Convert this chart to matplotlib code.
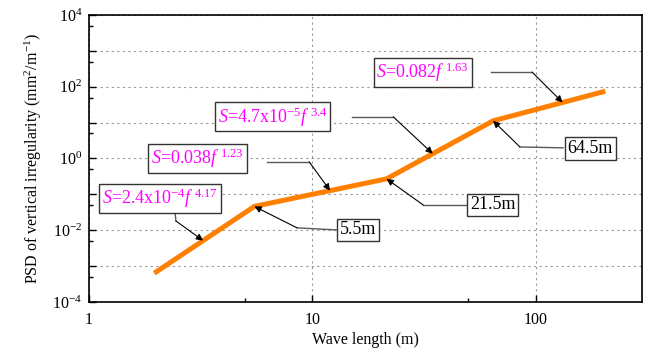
import numpy as np
import matplotlib
matplotlib.use("Agg")
import matplotlib.pyplot as plt
from matplotlib.ticker import NullFormatter, FixedLocator

plt.rcParams["font.family"] = "Liberation Serif"
plt.rcParams["mathtext.fontset"] = "custom"
plt.rcParams["mathtext.rm"] = "Liberation Serif"
plt.rcParams["mathtext.it"] = "Liberation Serif:italic"

# piecewise power-law PSD, vertices at the break wavelengths
wavelength = [2.0, 5.5, 21.5, 64.5, 200.0]
psd = [6.9e-4, 0.046, 0.27, 11.2, 72.0]

# fitted expressions: (text, wavelength the arrow points at, box centre, leader start, elbow)
fits = [
    (r"$S$=2.4x10$^{\mathrm{-4}}$$f^{\ \mathrm{4.17}}$", 3.24, (0.128, 0.361), (0.1555, 0.310), (0.157, 0.282)),
    (r"$S$=0.038$f^{\ \mathrm{1.23}}$", 12.0, (0.196, 0.500), (0.322, 0.488), (0.398, 0.488)),
    (r"$S$=4.7x10$^{\mathrm{-5}}$$f^{\ \mathrm{3.4}}$", 34.6, (0.332, 0.645), (0.476, 0.645), (0.550, 0.645)),
    (r"$S$=0.082$f^{\ \mathrm{1.63}}$", 132.0, (0.603, 0.801), (0.727, 0.801), (0.801, 0.801)),
]
breaks = [
    ("5.5m", 5.5, (0.4855, 0.251), (0.4467, 0.251), (0.376, 0.258)),
    ("21.5m", 21.5, (0.7297, 0.338), (0.682, 0.338), (0.604, 0.338)),
    ("64.5m", 64.5, (0.906, 0.535), (0.857, 0.537), (0.779, 0.540)),
]


def psd_at(x):
    return 10 ** np.interp(np.log10(x), np.log10(wavelength), np.log10(psd))


fig = plt.figure(figsize=(6.6, 3.49), dpi=100)
ax = fig.add_axes([0.135, 0.135, 0.838, 0.822])

ax.plot(wavelength, psd, color="#ff8000", lw=3.6, solid_joinstyle="miter", zorder=3)

ax.set_xscale("log")
ax.set_yscale("log")
ax.set_xlim(1, 300)
ax.set_ylim(1e-4, 1e4)

ax.xaxis.set_major_locator(FixedLocator([1, 10, 100]))
ax.xaxis.set_minor_locator(FixedLocator([5, 50]))
ax.xaxis.set_minor_formatter(NullFormatter())
ax.yaxis.set_major_locator(FixedLocator([10.0 ** k for k in range(-4, 5)]))
ax.yaxis.set_minor_locator(FixedLocator([5 * 10.0 ** k for k in range(-5, 4)]))
ax.yaxis.set_minor_formatter(NullFormatter())
ax.set_xticklabels(["1", "10", "100"])
ylabels = []
for k in range(-4, 5):
    ylabels.append(r"10$^{\mathrm{%d}}$" % k if k % 2 == 0 else "")
ax.set_yticklabels(ylabels)

ax.tick_params(which="both", direction="in", top=False, right=False, labelsize=11.5)
ax.tick_params(which="major", length=5, width=1)
ax.tick_params(which="minor", length=3, width=1)
ax.tick_params(axis="x", pad=7)
ax.tick_params(axis="y", pad=5)
for s in ax.spines.values():
    s.set_linewidth(1.2)

ax.grid(True, which="major", color="0.6", ls=(0, (2, 3)), lw=0.8)

ax.set_xlabel("Wave length (m)", fontsize=11.5, labelpad=3)
ax.set_ylabel(r"PSD of vertical irregularity (mm$^{2}$/m$^{\mathrm{-1}}$)", fontsize=11.5, labelpad=6)


def leader(x_tip, start, elbow):
    ax.plot([start[0], elbow[0]], [start[1], elbow[1]], transform=ax.transAxes,
            color="0.35", lw=1.0, zorder=4)
    ax.annotate("", xy=(x_tip, psd_at(x_tip)), xycoords="data",
                xytext=elbow, textcoords="axes fraction",
                arrowprops=dict(arrowstyle="-|>", color="black", lw=0.8,
                                mutation_scale=10, shrinkA=0, shrinkB=0),
                zorder=4)


box = dict(boxstyle="square,pad=0.15", fc="white", ec="0.2", lw=1.0)
for text, x_tip, centre, start, elbow in fits:
    ax.text(centre[0], centre[1], text, transform=ax.transAxes, ha="center", va="center",
            color="#ff00ff", fontsize=13, bbox=box, zorder=5)
    leader(x_tip, start, elbow)

for text, x_tip, centre, start, elbow in breaks:
    ax.text(centre[0], centre[1], text, transform=ax.transAxes, ha="center", va="center",
            color="black", fontsize=13, bbox=box, zorder=5)
    leader(x_tip, start, elbow)

fig.savefig("out.png", dpi=100)
